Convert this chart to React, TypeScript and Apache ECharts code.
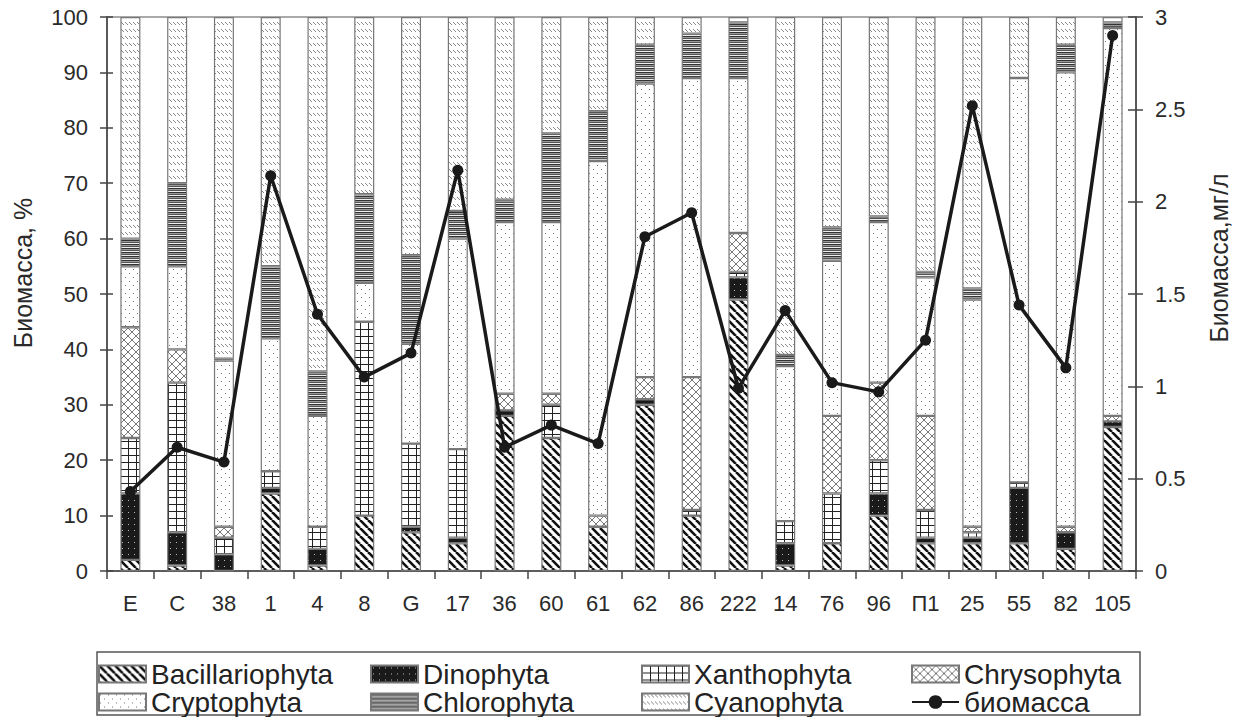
import React, { useEffect, useRef } from "react";
import * as echarts from "echarts";

const categories = ["E", "C", "38", "1", "4", "8", "G", "17", "36", "60", "61", "62", "86", "222", "14", "76", "96", "П1", "25", "55", "82", "105"];
const bacillariophyta = [2, 1, 0, 14, 1, 10, 7, 5, 28, 24, 8, 30, 10, 49, 1, 5, 10, 5, 5, 5, 4, 26];
const dinophyta = [12, 6, 3, 1, 3, 0, 1, 1, 1, 0, 0, 1, 0, 4, 4, 0, 4, 1, 1, 10, 3, 1];
const xanthophyta = [10, 27, 3, 3, 4, 35, 15, 16, 0, 6, 0, 0, 1, 1, 4, 9, 6, 5, 1, 1, 0, 0];
const chrysophyta = [20, 6, 2, 0, 0, 0, 0, 0, 3, 2, 2, 4, 24, 7, 0, 14, 14, 17, 1, 0, 1, 1];
const cryptophyta = [11, 15, 30, 24, 20, 7, 18, 38, 31, 31, 64, 53, 54, 28, 28, 28, 29, 25, 41, 73, 82, 70];
const chlorophyta = [5, 15, 0.3, 13, 8, 16, 16, 5, 4, 16, 9, 7, 8, 10, 2, 6, 1, 1, 2, 0, 5, 1];
const cyanophyta = [40, 30, 61.7, 45, 64, 32, 43, 35, 33, 21, 17, 5, 3, 1, 61, 38, 36, 46, 49, 11, 5, 1];
const biomass = [0.43, 0.67, 0.59, 2.14, 1.39, 1.05, 1.18, 2.17, 0.67, 0.79, 0.69, 1.81, 1.94, 0.99, 1.41, 1.02, 0.97, 1.25, 2.52, 1.44, 1.1, 2.9];

const leftTicks = [0, 100, 10];
const rightTicks = [0, 3, 0.5];

const FONT = "Liberation Sans";

function makePattern(w: number, h: number, draw: (ctx: CanvasRenderingContext2D) => void) {
  const c = document.createElement("canvas");
  c.width = w;
  c.height = h;
  const ctx = c.getContext("2d") as CanvasRenderingContext2D;
  draw(ctx);
  return { image: c.toDataURL(), imageWidth: w, imageHeight: h, repeat: "repeat" };
}

function patterns() {
  const bac = makePattern(8, 8, (ctx) => {
    ctx.fillStyle = "#fff";
    ctx.fillRect(0, 0, 8, 8);
    ctx.strokeStyle = "#111";
    ctx.lineWidth = 2.6;
    for (const x0 of [-8, 0, 8]) {
      ctx.beginPath();
      ctx.moveTo(x0, 0);
      ctx.lineTo(x0 + 8, 8);
      ctx.stroke();
    }
  });
  const dino = makePattern(6, 6, (ctx) => {
    ctx.fillStyle = "#1a1a1a";
    ctx.fillRect(0, 0, 6, 6);
    ctx.fillStyle = "#bbb";
    ctx.fillRect(2, 2, 1, 1);
  });
  const xan = makePattern(8, 7, (ctx) => {
    ctx.fillStyle = "#fff";
    ctx.fillRect(0, 0, 8, 7);
    ctx.fillStyle = "#222";
    ctx.fillRect(0, 0, 8, 1);
    ctx.fillRect(0, 0, 1, 7);
  });
  const chry = makePattern(8, 8, (ctx) => {
    ctx.fillStyle = "#fff";
    ctx.fillRect(0, 0, 8, 8);
    ctx.strokeStyle = "#777";
    ctx.lineWidth = 1;
    for (const x0 of [-8, 0, 8]) {
      ctx.beginPath();
      ctx.moveTo(x0, 0);
      ctx.lineTo(x0 + 8, 8);
      ctx.stroke();
      ctx.beginPath();
      ctx.moveTo(x0 + 8, 0);
      ctx.lineTo(x0, 8);
      ctx.stroke();
    }
  });
  const cryp = makePattern(8, 8, (ctx) => {
    ctx.fillStyle = "#fff";
    ctx.fillRect(0, 0, 8, 8);
    ctx.fillStyle = "#777";
    ctx.fillRect(1, 1, 1, 1);
    ctx.fillRect(5, 5, 1, 1);
  });
  const chlo = makePattern(4, 4, (ctx) => {
    ctx.fillStyle = "#eee";
    ctx.fillRect(0, 0, 4, 4);
    ctx.fillStyle = "#333";
    ctx.fillRect(0, 0, 4, 1);
    ctx.fillStyle = "#999";
    ctx.fillRect(0, 1, 4, 1);
    ctx.fillStyle = "#555";
    ctx.fillRect(0, 2, 4, 1);
  });
  const cyan = makePattern(8, 7, (ctx) => {
    ctx.fillStyle = "#fff";
    ctx.fillRect(0, 0, 8, 7);
    ctx.strokeStyle = "#888";
    ctx.lineWidth = 1;
    ctx.beginPath();
    ctx.moveTo(1, 1);
    ctx.lineTo(4, 4);
    ctx.stroke();
    ctx.beginPath();
    ctx.moveTo(5, 1);
    ctx.lineTo(8, 4);
    ctx.stroke();
  });
  return { bac, dino, xan, chry, cryp, chlo, cyan };
}

export default function App() {
  const ref = useRef<HTMLDivElement>(null);
  useEffect(() => {
    if (!ref.current) return;
    const chart = echarts.init(ref.current, undefined, { renderer: "svg" });
    const p = patterns();
    const barSeries = [
      ["Bacillariophyta", bacillariophyta, p.bac],
      ["Dinophyta", dinophyta, p.dino],
      ["Xanthophyta", xanthophyta, p.xan],
      ["Chrysophyta", chrysophyta, p.chry],
      ["Cryptophyta", cryptophyta, p.cryp],
      ["Chlorophyta", chlorophyta, p.chlo],
      ["Cyanophyta", cyanophyta, p.cyan],
    ].map(([name, data, pat]: any) => ({
      name,
      type: "bar",
      stack: "total",
      barWidth: 20,
      data,
      yAxisIndex: 0,
      itemStyle: { color: pat, borderColor: "#777", borderWidth: 1.2 },
      emphasis: { disabled: true },
    }));
    const axisLineStyle = { color: "#444", width: 1.5 };
    const labelStyle = { fontSize: 22, color: "#2a2a2a", fontFamily: FONT };
    const legendBase = {
      orient: "vertical",
      top: 660,
      height: 80,
      width: 260,
      itemGap: 0,
      itemWidth: 47,
      itemHeight: 17,
      padding: 0,
      textStyle: { fontSize: 28, color: "#222", fontFamily: FONT },
      selectedMode: false,
    };
    chart.setOption({
      animation: false,
      textStyle: { fontFamily: FONT },
      grid: {
        left: 107,
        right: 104,
        top: 17,
        bottom: 146,
        show: true,
        borderColor: "#555",
        borderWidth: 1.2,
        backgroundColor: "transparent",
      },
      legend: [
        { ...legendBase, left: 98, data: [{ name: "Bacillariophyta", icon: "rect" }, { name: "Cryptophyta", icon: "rect" }] },
        { ...legendBase, left: 370, data: [{ name: "Dinophyta", icon: "rect" }, { name: "Chlorophyta", icon: "rect" }] },
        { ...legendBase, left: 641, data: [{ name: "Xanthophyta", icon: "rect" }, { name: "Cyanophyta", icon: "rect" }] },
        { ...legendBase, left: 911, data: [{ name: "Chrysophyta", icon: "rect" }, { name: "биомасса" }] },
      ],
      xAxis: {
        type: "category",
        data: categories,
        boundaryGap: true,
        axisLine: { show: true, lineStyle: axisLineStyle },
        axisTick: { show: true, length: 8, lineStyle: axisLineStyle },
        axisLabel: { ...labelStyle, margin: 21, interval: 0 },
        splitLine: { show: false },
      },
      yAxis: [
        {
          type: "value",
          min: leftTicks[0],
          max: leftTicks[1],
          interval: leftTicks[2],
          position: "left",
          axisLine: { show: true, lineStyle: axisLineStyle },
          axisTick: { show: true, length: 7, lineStyle: axisLineStyle },
          axisLabel: { ...labelStyle, margin: 19 },
          splitLine: { show: false },
        },
        {
          type: "value",
          min: rightTicks[0],
          max: rightTicks[1],
          interval: rightTicks[2],
          position: "right",
          axisLine: { show: true, lineStyle: axisLineStyle },
          axisTick: { show: true, length: 7, lineStyle: axisLineStyle },
          axisLabel: { ...labelStyle, margin: 19 },
          splitLine: { show: false },
        },
        {
          type: "value",
          min: leftTicks[0],
          max: leftTicks[1],
          interval: leftTicks[2],
          position: "left",
          axisLine: { show: false },
          axisTick: { show: true, inside: true, length: 6, lineStyle: axisLineStyle },
          axisLabel: { show: false },
          splitLine: { show: false },
        },
        {
          type: "value",
          min: rightTicks[0],
          max: rightTicks[1],
          interval: rightTicks[2],
          position: "right",
          axisLine: { show: false },
          axisTick: { show: true, inside: true, length: 8, lineStyle: axisLineStyle },
          axisLabel: { show: false },
          splitLine: { show: false },
        },
      ],
      series: [
        ...barSeries,
        {
          name: "биомасса",
          type: "line",
          yAxisIndex: 1,
          data: biomass,
          z: 10,
          symbol: "circle",
          symbolSize: 11,
          lineStyle: { color: "#1a1a1a", width: 3.5 },
          itemStyle: { color: "#1a1a1a" },
          emphasis: { disabled: true },
        },
      ],
      graphic: [
        {
          type: "rect",
          shape: { x: 97, y: 652, width: 1043, height: 63 },
          style: { fill: "none", stroke: "#555", lineWidth: 1.5 },
          silent: true,
        },
        {
          type: "text",
          x: 23,
          y: 273,
          rotation: Math.PI / 2,
          style: { text: "Биомасса, %", fontSize: 25, fill: "#2a2a2a", fontFamily: FONT, align: "center", verticalAlign: "middle" },
        },
        {
          type: "text",
          x: 1219,
          y: 258,
          rotation: Math.PI / 2,
          style: { text: "Биомасса,мг/л", fontSize: 25, fill: "#2a2a2a", fontFamily: FONT, align: "center", verticalAlign: "middle" },
        },
      ],
    });
    return () => chart.dispose();
  }, []);
  return <div ref={ref} style={{ width: 1240, height: 717, position: "absolute", left: 0, top: 0 }} />;
}
